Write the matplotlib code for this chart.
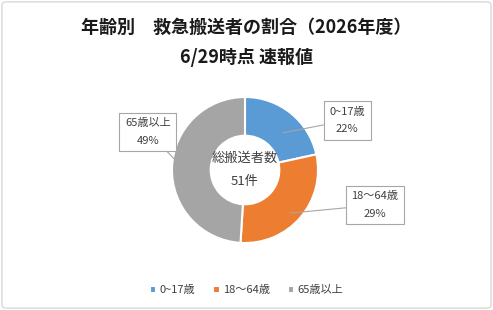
import matplotlib.pyplot as plt
from matplotlib.patches import FancyBboxPatch

plt.rcParams['font.family'] = ['Noto Sans CJK JP', 'DejaVu Sans']

# ----- data -----
categories = ['0~17歳', '18～64歳', '65歳以上']
counts = [11, 15, 25]
percent_labels = ['22%', '29%', '49%']
colors = ['#5B9BD5', '#ED7D31', '#A5A5A5']
total = sum(counts)

W, H = 493, 310
fig = plt.figure(figsize=(W / 100, H / 100), dpi=100)

# light frame round the chart area
frame = FancyBboxPatch((0.004, 0.006), 0.992, 0.988, boxstyle='round,pad=0,rounding_size=0.01',
                       transform=fig.transFigure, facecolor='none', edgecolor='#D9D9D9',
                       linewidth=1.0, zorder=0)
fig.patches.append(frame)

fig.text(0.5, 1 - 27 / H, '年齢別　救急搬送者の割合（2026年度）', ha='center', va='center',
         fontsize=13, fontweight='bold', color='#1a1a1a')
fig.text(0.5, 1 - 57 / H, '6/29時点 速報値', ha='center', va='center',
         fontsize=13, fontweight='bold', color='#1a1a1a')

# donut axes: centre (245, 170) px, radius 73 px
cx, cy, r = 245, 170, 73
ax = fig.add_axes([(cx - r) / W, (H - cy - r) / H, 2 * r / W, 2 * r / H])
wedges, _ = ax.pie(counts, colors=colors, startangle=90, counterclock=False,
                   wedgeprops=dict(width=0.53, edgecolor='white', linewidth=1.5))
ax.set_xlim(-1, 1)
ax.set_ylim(-1, 1)
ax.set_aspect('equal')

ax.text(0, 0, f'総搬送者数\n{total}件', ha='center', va='center', fontsize=9.5,
        color='#404040', linespacing=2.0)

# data labels with leader lines
label_xy = [(0.52, 0.51), (0.62, -0.59), (-0.75, -0.07)]
label_text_xy = [(1.40, 0.68), (1.78, -0.48), (-1.33, 0.52)]
for cat, pct, xy, txy in zip(categories, percent_labels, label_xy, label_text_xy):
    ax.annotate(f'{cat}\n{pct}', xy=xy, xytext=txy, ha='center', va='center',
                fontsize=8, color='#404040', linespacing=1.9, annotation_clip=False,
                bbox=dict(boxstyle='square,pad=0.5', facecolor='white', edgecolor='#A6A6A6',
                          linewidth=0.8),
                arrowprops=dict(arrowstyle='-', color='#A6A6A6', linewidth=0.8,
                                shrinkA=0, shrinkB=0))

fig.legend(wedges, categories, loc='center', bbox_to_anchor=(0.5, 1 - 290 / H),
           ncol=3, frameon=False, fontsize=8, handlelength=0.6, handleheight=0.6,
           handletextpad=0.3, columnspacing=1.6, labelcolor='#404040')

fig.savefig('out.png', dpi=100)
